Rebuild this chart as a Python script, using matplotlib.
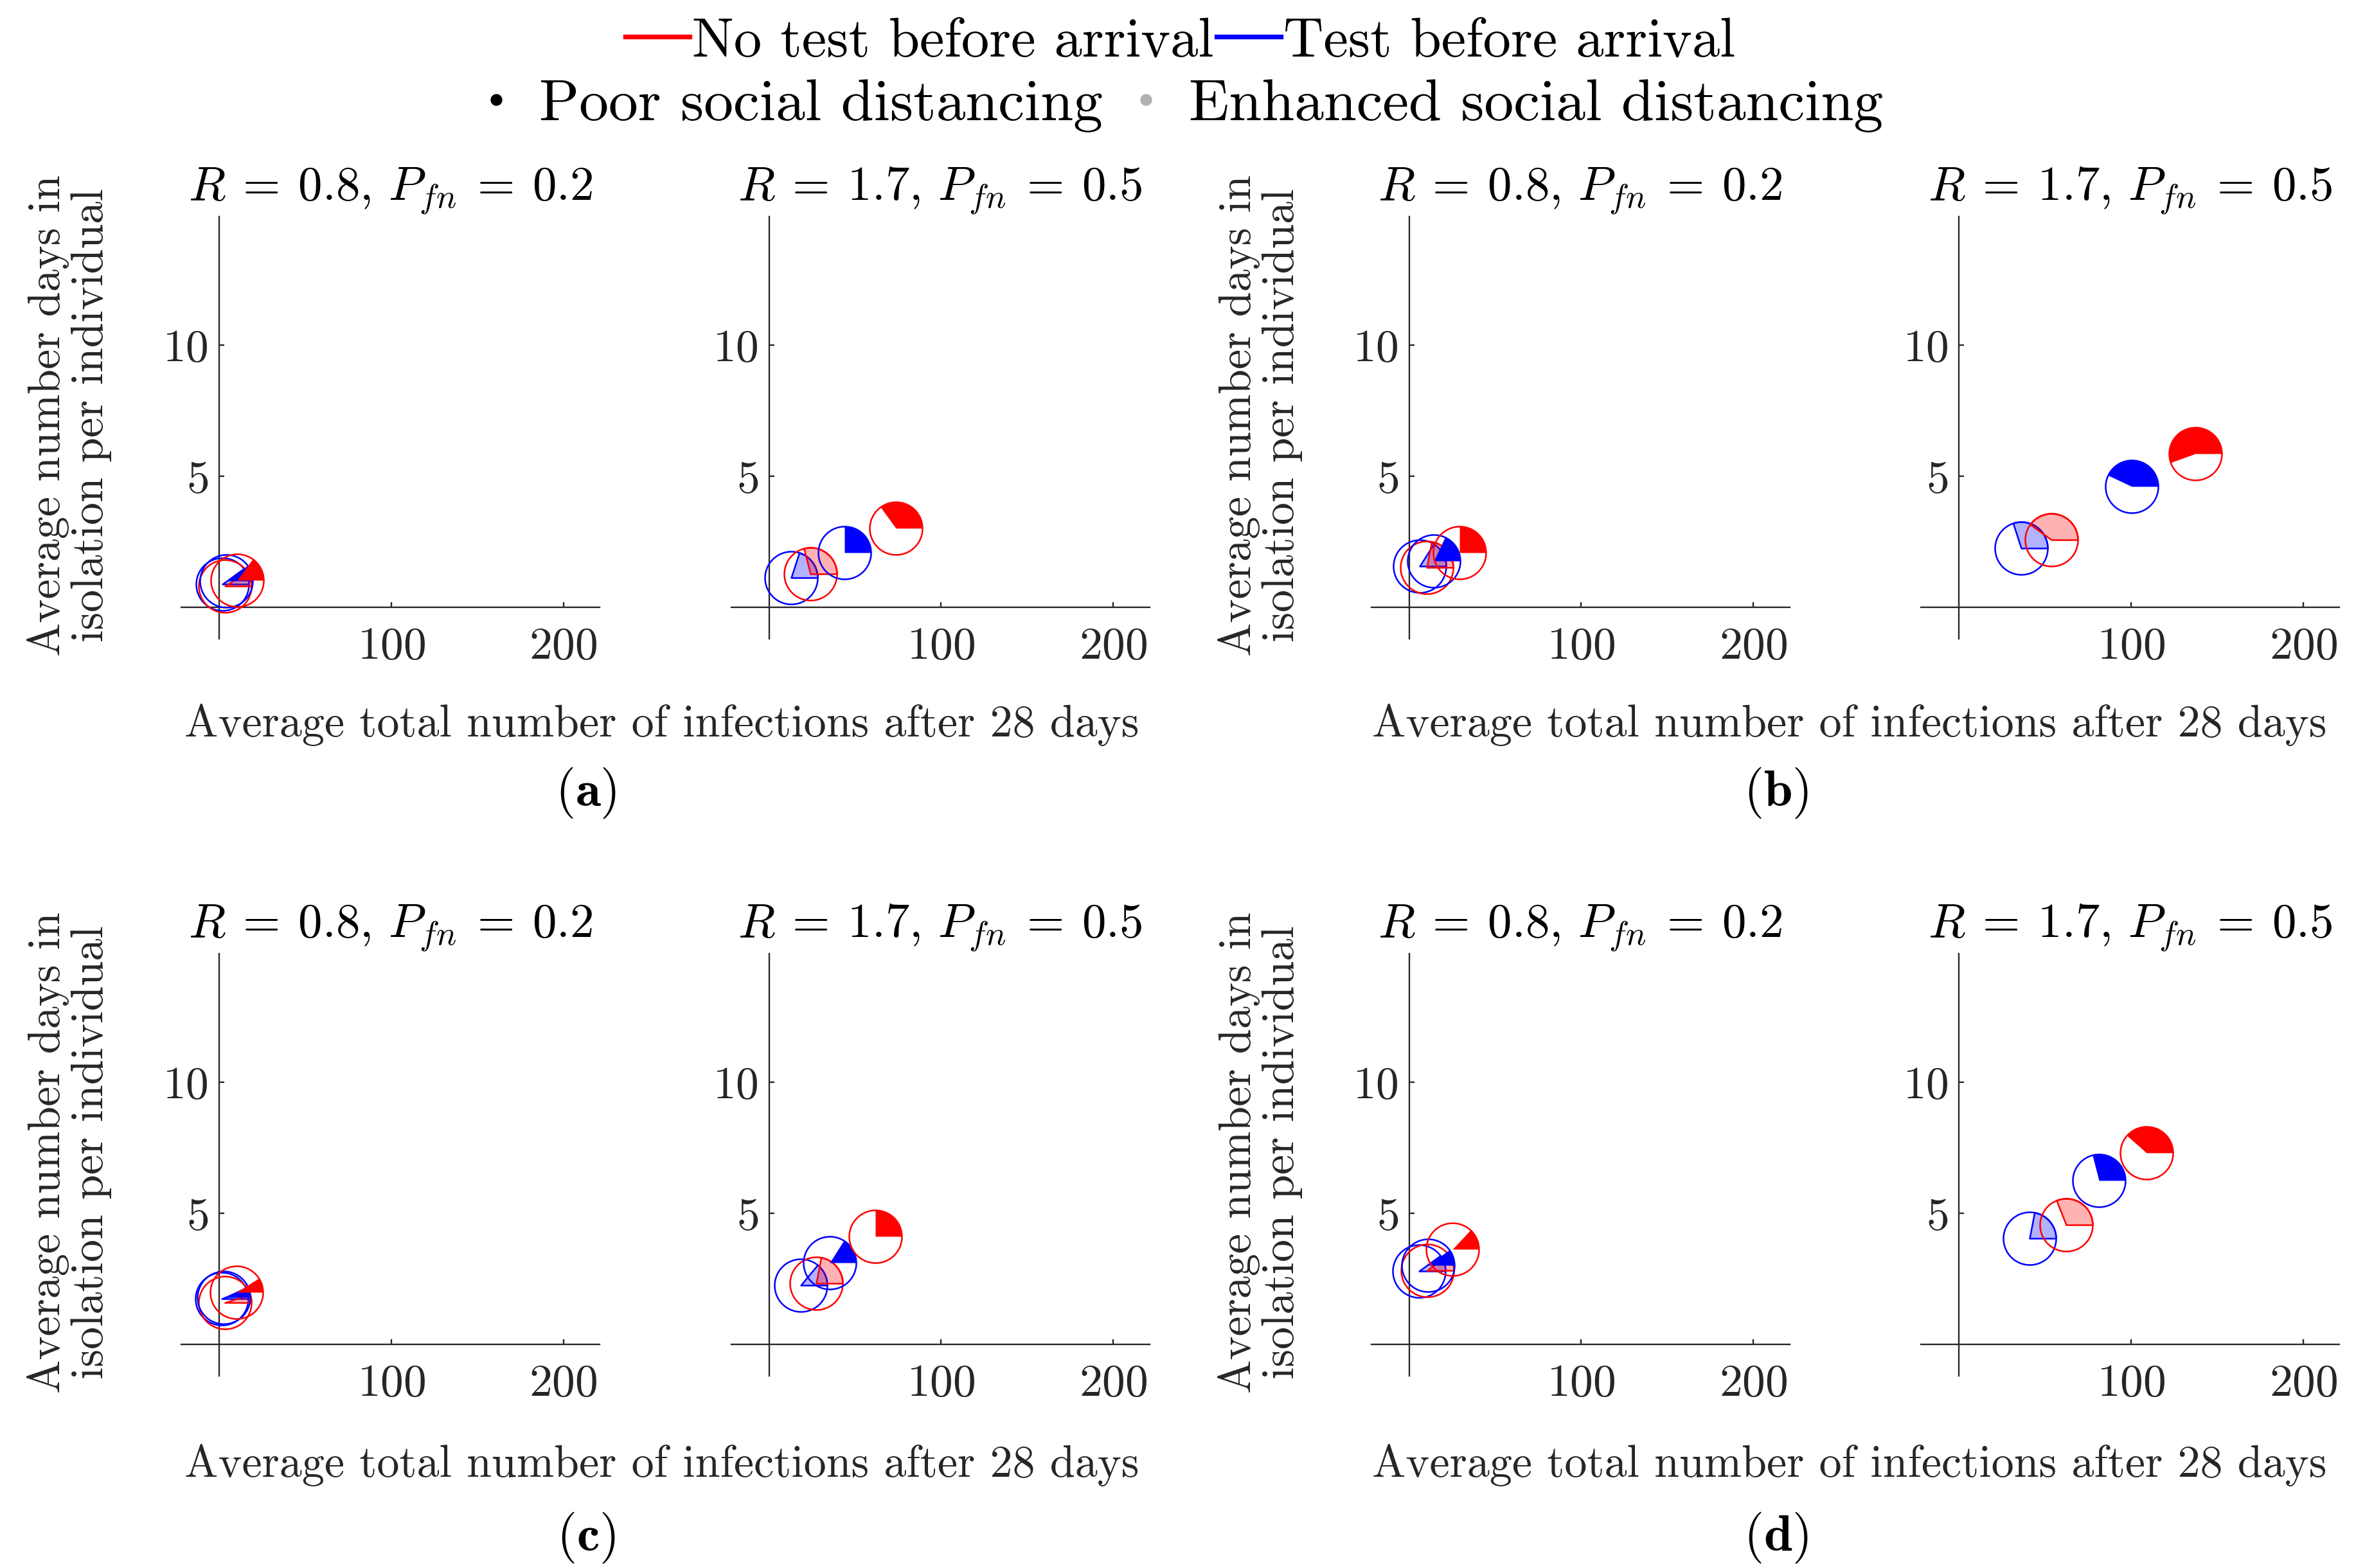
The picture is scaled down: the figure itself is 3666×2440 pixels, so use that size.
import numpy as np
import matplotlib
matplotlib.use('Agg')
import matplotlib.pyplot as plt
from matplotlib.path import Path
from matplotlib.lines import Line2D

plt.rcParams['font.family'] = 'serif'
plt.rcParams['font.serif'] = ['cmr10']
plt.rcParams['mathtext.fontset'] = 'cm'
plt.rcParams['axes.formatter.use_mathtext'] = True

# subplot order: a-left, a-right, b-left, b-right, c-left, c-right, d-left, d-right
titles = [r'$R\:=\:0.8,\,P_{fn}\:=\:0.2$', r'$R\:=\:1.7,\,P_{fn}\:=\:0.5$'] * 4
panel_labels = ['(a)', '(b)', '(c)', '(d)']

# No test before arrival, poor social distancing
nt_poor_x = [10.6, 73.6, 29.2, 137.4, 10.3, 61.6, 25.1, 109.0]
nt_poor_y = [1.03, 3.02, 2.09, 5.87, 1.98, 4.11, 3.62, 7.31]
nt_poor_f = [0.15, 0.35, 0.25, 0.555, 0.09, 0.25, 0.13, 0.385]
# Test before arrival, poor social distancing
t_poor_x = [4.3, 44.0, 14.3, 100.5, 2.5, 35.3, 10.9, 81.4]
t_poor_y = [1.00, 2.10, 1.78, 4.61, 1.80, 3.12, 3.01, 6.25]
t_poor_f = [0.10, 0.25, 0.18, 0.43, 0.07, 0.16, 0.10, 0.29]
# No test before arrival, enhanced social distancing
nt_enh_x = [3.4, 24.1, 10.3, 53.6, 3.5, 27.3, 10.5, 62.3]
nt_enh_y = [0.82, 1.27, 1.52, 2.59, 1.59, 2.32, 2.82, 4.55]
nt_enh_f = [0.09, 0.29, 0.22, 0.40, 0.05, 0.22, 0.11, 0.31]
# Test before arrival, enhanced social distancing
t_enh_x = [1.9, 12.8, 6.2, 36.1, 1.5, 18.3, 5.7, 41.0]
t_enh_y = [0.90, 1.13, 1.58, 2.25, 1.75, 2.25, 2.80, 4.05]
t_enh_f = [0.10, 0.20, 0.16, 0.30, 0.06, 0.14, 0.10, 0.22]

RED = (1, 0, 0)
BLUE = (0, 0, 1)
AXC = '#262626'
MS = 24.6  # marker diameter in points


def wedge(frac):
    # pie slice from angle 0 counter-clockwise, unit radius
    th = np.linspace(0, 2 * np.pi * frac, max(int(240 * frac), 2) + 1)
    verts = [(0, 0)] + list(zip(np.cos(th), np.sin(th))) + [(0, 0)]
    codes = [Path.MOVETO] + [Path.LINETO] * (len(verts) - 2) + [Path.CLOSEPOLY]
    return Path(verts, codes)


def pie_marker(ax, x, y, frac, color, light):
    ax.plot([x], [y], 'o', ms=MS, mfc='none', mec=color, mew=0.75, zorder=3)
    if light:
        ax.plot([x], [y], marker=wedge(frac), ms=MS, mfc=color + (0.3,),
                mec=color, mew=0.75, ls='none', zorder=3)
    else:
        ax.plot([x], [y], marker=wedge(frac), ms=MS, mfc=color,
                mec='none', ls='none', zorder=3)


fig = plt.figure(figsize=(3666 / 240, 2440 / 240), dpi=240)

lefts = [0.0769, 0.3103, 0.582, 0.8154]
bottoms = [0.5925, 0.1225]
w, h = 0.1776, 0.2695

for i in range(8):
    row = i // 4
    col = i % 4
    ax = fig.add_axes([lefts[col], bottoms[row], w, h])
    ax.set_xlim(-22, 221)
    ax.set_ylim(-1.2, 14.9)
    for s in ['top', 'right']:
        ax.spines[s].set_visible(False)
    for s in ['left', 'bottom']:
        ax.spines[s].set_position(('data', 0))
        ax.spines[s].set_color(AXC)
        ax.spines[s].set_linewidth(0.7)
    ax.set_xticks([100, 200])
    ax.set_yticks([5, 10])
    ax.tick_params(direction='in', length=2.5, width=0.7, color=AXC,
                   labelcolor=AXC, labelsize=21.5)
    ax.tick_params(axis='x', pad=9)
    ax.tick_params(axis='y', pad=5)
    ax.set_title(titles[i], fontsize=22.5, pad=6)
    ax.patch.set_alpha(0)

    pie_marker(ax, t_enh_x[i], t_enh_y[i], t_enh_f[i], BLUE, True)
    pie_marker(ax, nt_enh_x[i], nt_enh_y[i], nt_enh_f[i], RED, True)
    pie_marker(ax, t_poor_x[i], t_poor_y[i], t_poor_f[i], BLUE, False)
    pie_marker(ax, nt_poor_x[i], nt_poor_y[i], nt_poor_f[i], RED, False)

# shared labels for each pair of subplots
pair_cx = [0.281, 0.785]
lab_cx = [0.2487, 0.7538]
ylab_x = [0.0295, 0.535]
xlab_y = [0.5376, 0.0655]
plab_y = [0.4942, 0.0193]
ylab_y = [0.735, 0.265]
k = 0
for row in range(2):
    for col in range(2):
        fig.text(pair_cx[col], xlab_y[row], 'Average total number of infections after 28 days',
                 ha='center', va='center', fontsize=21, color=AXC)
        fig.text(ylab_x[col], ylab_y[row], 'Average number days in\nisolation per individual',
                 ha='center', va='center', rotation=90, fontsize=21, color=AXC,
                 multialignment='center', linespacing=1.05)
        fig.text(lab_cx[col], plab_y[row], r'$\mathbf{' + panel_labels[k] + '}$',
                 ha='center', va='center', fontsize=24)
        k += 1

# legends at the top
h1 = [Line2D([], [], color=RED, lw=2.2), Line2D([], [], color=BLUE, lw=2.2)]
fig.legend(h1, ['No test before arrival', 'Test before arrival'], loc='center',
           bbox_to_anchor=(0.501, 0.973), ncol=2, frameon=False, fontsize=26,
           handlelength=1.15, handletextpad=0.05, columnspacing=0.05)
h2 = [Line2D([], [], color='black', marker='o', ms=4.5, ls='none'),
      Line2D([], [], color='#b0b0b0', marker='o', ms=4.5, ls='none')]
fig.legend(h2, ['Poor social distancing', 'Enhanced social distancing'], loc='center',
           bbox_to_anchor=(0.5, 0.9326), ncol=2, frameon=False, fontsize=27.5,
           handlelength=0.8, handletextpad=0.33, columnspacing=0.33)

fig.savefig('out.png', dpi=240)
